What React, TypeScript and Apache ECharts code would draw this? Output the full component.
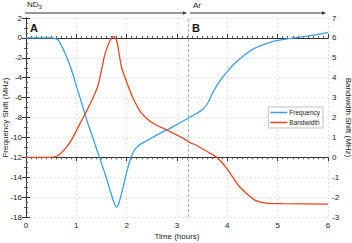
import React, { useEffect, useRef } from "react";
import * as echarts from "echarts";

const freqHours = [0, 0.3, 0.5, 0.6, 0.65, 0.78, 0.91, 1.01, 1.11, 1.21, 1.34, 1.41, 1.5, 1.61, 1.7, 1.77, 1.8, 1.84, 1.9, 1.99, 2.06, 2.13, 2.2, 2.27, 2.43, 2.6, 2.8, 3.0, 3.23, 3.4, 3.52, 3.62, 3.7, 3.79, 3.9, 3.99, 4.1, 4.25, 4.4, 4.52, 4.7, 4.85, 5.0, 5.25, 5.5, 5.75, 6.0];
const freqValues = [0, 0, 0, -0.1, -0.27, -1.6, -3.3, -5.0, -6.6, -8.3, -10.2, -11.3, -12.6, -14.3, -15.8, -16.85, -17.0, -16.7, -15.6, -13.7, -12.4, -11.5, -11.0, -10.7, -10.25, -9.75, -9.25, -8.7, -8.05, -7.55, -7.15, -6.47, -5.6, -4.8, -4.0, -3.45, -2.8, -2.1, -1.5, -1.1, -0.7, -0.44, -0.25, -0.05, 0.12, 0.3, 0.55];

const bwHours = [0, 0.5, 0.65, 0.8, 0.91, 1.07, 1.24, 1.41, 1.45, 1.51, 1.57, 1.67, 1.74, 1.8, 1.85, 1.9, 1.99, 2.13, 2.27, 2.4, 2.53, 2.8, 3.13, 3.21, 3.41, 3.64, 3.81, 4.01, 4.21, 4.41, 4.57, 4.77, 5.1, 6.0];
const bwValues = [0, 0, 0.1, 0.5, 0.9, 1.68, 2.5, 3.45, 3.8, 4.5, 5.2, 5.87, 6.08, 5.87, 5.2, 4.5, 3.85, 2.95, 2.3, 1.95, 1.7, 1.37, 0.95, 0.8, 0.57, 0.23, -0.05, -0.63, -1.38, -1.88, -2.18, -2.3, -2.33, -2.35];

const switchHour = 3.23;
const FONT = "Liberation Sans, Arial, sans-serif";

export default function App() {
  const ref = useRef<HTMLDivElement>(null);
  useEffect(() => {
    if (!ref.current) return;
    document.body.style.margin = "0";
    const chart = echarts.init(ref.current, null, { renderer: "svg" });
    const axisLine = { show: true, lineStyle: { color: "#333", width: 1 } };
    const tick = { show: true, inside: true, length: 4, lineStyle: { color: "#333" } };
    const label = { color: "#222", fontSize: 8, fontFamily: FONT };
    const split = { show: true, lineStyle: { color: "#dde3e8", type: [2, 2] as any, width: 1 } };
    chart.setOption({
      animation: false,
      textStyle: { fontFamily: FONT },
      grid: { left: 26, right: 24, top: 18, bottom: 26, containLabel: false, outerBoundsMode: "none" },
      legend: {
        right: 29,
        top: 107,
        orient: "vertical",
        icon: "rect",
        itemWidth: 17,
        itemHeight: 1.5,
        itemGap: 3,
        padding: [2, 3, 2, 2],
        borderColor: "#999",
        borderWidth: 0.6,
        backgroundColor: "#fff",
        textStyle: { fontSize: 6.5, color: "#222", fontFamily: FONT, padding: [0, 0, 0, -3] },
        data: ["Frequency", "Bandwidth"],
      },
      xAxis: [
        {
          type: "value", min: 0, max: 6, interval: 1, position: "bottom",
          axisLine, axisTick: tick, axisLabel: { ...label, margin: 4 },
          minorTick: { show: true, splitNumber: 10, length: 2, lineStyle: { color: "#555" } },
          splitLine: split,
          name: "Time (hours)", nameLocation: "middle", nameGap: 15, nameMoveOverlap: false,
          nameTextStyle: { color: "#222", fontSize: 8, fontFamily: FONT },
        },
        {
          type: "value", min: 0, max: 6, interval: 1, position: "top",
          axisLine, axisTick: tick, axisLabel: { show: false },
          minorTick: { show: true, splitNumber: 10, length: 2, lineStyle: { color: "#555" } },
          splitLine: { show: false },
        },
      ],
      yAxis: [
        {
          type: "value", min: -18, max: 2, interval: 2, position: "left",
          axisLine, axisTick: tick, axisLabel: { ...label, margin: 4 },
          minorTick: { show: true, splitNumber: 4, length: 2, lineStyle: { color: "#555" } },
          splitLine: split,
          name: "Frequency Shift (MHz)", nameLocation: "middle", nameGap: 17, nameRotate: 90, nameMoveOverlap: false,
          nameTextStyle: { color: "#222", fontSize: 8, fontFamily: FONT },
        },
        {
          type: "value", min: -3, max: 7, interval: 1, position: "right",
          axisLine, axisTick: tick, axisLabel: { ...label, margin: 4 },
          minorTick: { show: true, splitNumber: 2, length: 2, lineStyle: { color: "#555" } },
          splitLine: { show: false },
          name: "Bandwidth Shift (MHz)", nameLocation: "middle", nameGap: 16, nameRotate: -90, nameMoveOverlap: false,
          nameTextStyle: { color: "#222", fontSize: 8, fontFamily: FONT },
        },
      ],
      series: [
        {
          name: "Frequency", type: "line", xAxisIndex: 0, yAxisIndex: 0,
          data: freqHours.map((h, i) => [h, freqValues[i]]),
          showSymbol: false, smooth: 0.25,
          lineStyle: { color: "#3d9fe6", width: 1.3 }, itemStyle: { color: "#3d9fe6" },
          markLine: {
            silent: true, symbol: "none", label: { show: false },
            lineStyle: { color: "#a9b4bc", type: [3, 2] as any, width: 1 },
            data: [{ xAxis: switchHour }],
          },
        },
        {
          name: "Bandwidth", type: "line", xAxisIndex: 0, yAxisIndex: 1,
          data: bwHours.map((h, i) => [h, bwValues[i]]),
          showSymbol: false, smooth: 0.25,
          lineStyle: { color: "#e8461e", width: 1.3 }, itemStyle: { color: "#e8461e" },
        },
      ],
      graphic: [
        {
          type: "text", left: 27, top: 0,
          style: {
            text: "{a|ND}{b|3}",
            rich: {
              a: { fontSize: 8, fill: "#222", fontFamily: FONT },
              b: { fontSize: 6, fill: "#222", fontFamily: FONT, padding: [5, 0, 0, 0] },
            },
          },
        },
        { type: "text", left: 193, top: 1, style: { text: "Ar", fontSize: 8, fill: "#222", fontFamily: FONT } },
        { type: "line", shape: { x1: 25, y1: 13, x2: 185, y2: 13 }, style: { stroke: "#333", lineWidth: 1 } },
        { type: "polygon", shape: { points: [[187, 13], [183, 11.3], [183, 14.7]] }, style: { fill: "#333" } },
        { type: "line", shape: { x1: 190, y1: 13, x2: 324, y2: 13 }, style: { stroke: "#333", lineWidth: 1 } },
        { type: "polygon", shape: { points: [[326, 13], [322, 11.3], [322, 14.7]] }, style: { fill: "#333" } },
        { type: "text", left: 30, top: 22, style: { text: "A", fontSize: 11, fontWeight: "bold", fill: "#111", fontFamily: FONT } },
        { type: "text", left: 192, top: 22, style: { text: "B", fontSize: 11, fontWeight: "bold", fill: "#111", fontFamily: FONT } },
      ],
    });
    return () => chart.dispose();
  }, []);
  return <div ref={ref} style={{ width: 352, height: 243 }} />;
}
